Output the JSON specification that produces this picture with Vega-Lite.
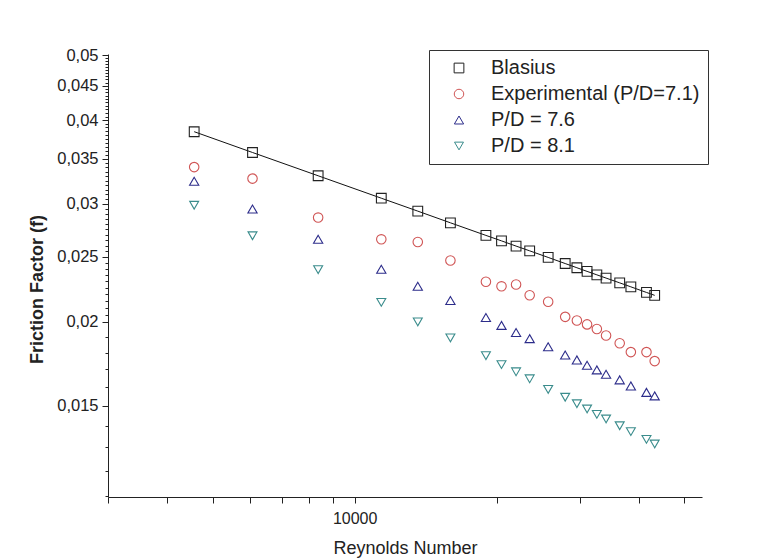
{
  "$schema": "https://vega.github.io/schema/vega-lite/v6.json",
  "width": 594,
  "height": 443,
  "autosize": "none",
  "padding": {"left": 108, "top": 54, "right": 59, "bottom": 61},
  "background": "white",
  "config": {
    "font": "Liberation Sans",
    "view": {"stroke": null},
    "axis": {"grid": false, "domainColor": "#222", "tickColor": "#222", "labelColor": "#222", "titleColor": "#222", "labelFont": "Liberation Sans", "titleFont": "Liberation Sans"}
  },
  "data": {
    "values": [
      {"Re": 4569, "f": 0.03844, "series": "Blasius"},
      {"Re": 6074, "f": 0.03579, "series": "Blasius"},
      {"Re": 8368, "f": 0.03304, "series": "Blasius"},
      {"Re": 11390, "f": 0.03059, "series": "Blasius"},
      {"Re": 13610, "f": 0.02926, "series": "Blasius"},
      {"Re": 15960, "f": 0.02811, "series": "Blasius"},
      {"Re": 18980, "f": 0.02692, "series": "Blasius"},
      {"Re": 20480, "f": 0.02642, "series": "Blasius"},
      {"Re": 21990, "f": 0.02595, "series": "Blasius"},
      {"Re": 23500, "f": 0.02553, "series": "Blasius"},
      {"Re": 25720, "f": 0.02496, "series": "Blasius"},
      {"Re": 27950, "f": 0.02444, "series": "Blasius"},
      {"Re": 29590, "f": 0.02409, "series": "Blasius"},
      {"Re": 31100, "f": 0.02379, "series": "Blasius"},
      {"Re": 32620, "f": 0.02351, "series": "Blasius"},
      {"Re": 34120, "f": 0.02325, "series": "Blasius"},
      {"Re": 36470, "f": 0.02287, "series": "Blasius"},
      {"Re": 38510, "f": 0.02256, "series": "Blasius"},
      {"Re": 41560, "f": 0.02213, "series": "Blasius"},
      {"Re": 43260, "f": 0.02191, "series": "Blasius"},
      {"Re": 4569, "f": 0.03404, "series": "Experimental (P/D=7.1)"},
      {"Re": 6074, "f": 0.03272, "series": "Experimental (P/D=7.1)"},
      {"Re": 8368, "f": 0.02862, "series": "Experimental (P/D=7.1)"},
      {"Re": 11390, "f": 0.02656, "series": "Experimental (P/D=7.1)"},
      {"Re": 13610, "f": 0.02632, "series": "Experimental (P/D=7.1)"},
      {"Re": 15960, "f": 0.0247, "series": "Experimental (P/D=7.1)"},
      {"Re": 18980, "f": 0.02296, "series": "Experimental (P/D=7.1)"},
      {"Re": 20480, "f": 0.0226, "series": "Experimental (P/D=7.1)"},
      {"Re": 21990, "f": 0.02274, "series": "Experimental (P/D=7.1)"},
      {"Re": 23500, "f": 0.02192, "series": "Experimental (P/D=7.1)"},
      {"Re": 25720, "f": 0.02143, "series": "Experimental (P/D=7.1)"},
      {"Re": 27950, "f": 0.02035, "series": "Experimental (P/D=7.1)"},
      {"Re": 29590, "f": 0.0201, "series": "Experimental (P/D=7.1)"},
      {"Re": 31100, "f": 0.01983, "series": "Experimental (P/D=7.1)"},
      {"Re": 32620, "f": 0.01952, "series": "Experimental (P/D=7.1)"},
      {"Re": 34120, "f": 0.01909, "series": "Experimental (P/D=7.1)"},
      {"Re": 36470, "f": 0.01859, "series": "Experimental (P/D=7.1)"},
      {"Re": 38510, "f": 0.01803, "series": "Experimental (P/D=7.1)"},
      {"Re": 41560, "f": 0.01803, "series": "Experimental (P/D=7.1)"},
      {"Re": 43260, "f": 0.01748, "series": "Experimental (P/D=7.1)"},
      {"Re": 4569, "f": 0.03242, "series": "P/D = 7.6"},
      {"Re": 6074, "f": 0.02947, "series": "P/D = 7.6"},
      {"Re": 8368, "f": 0.02656, "series": "P/D = 7.6"},
      {"Re": 11390, "f": 0.02396, "series": "P/D = 7.6"},
      {"Re": 13610, "f": 0.0226, "series": "P/D = 7.6"},
      {"Re": 15960, "f": 0.02152, "series": "P/D = 7.6"},
      {"Re": 18980, "f": 0.0203, "series": "P/D = 7.6"},
      {"Re": 20480, "f": 0.01976, "series": "P/D = 7.6"},
      {"Re": 21990, "f": 0.01928, "series": "P/D = 7.6"},
      {"Re": 23500, "f": 0.01888, "series": "P/D = 7.6"},
      {"Re": 25720, "f": 0.01836, "series": "P/D = 7.6"},
      {"Re": 27950, "f": 0.01785, "series": "P/D = 7.6"},
      {"Re": 29590, "f": 0.01755, "series": "P/D = 7.6"},
      {"Re": 31100, "f": 0.01723, "series": "P/D = 7.6"},
      {"Re": 32620, "f": 0.01696, "series": "P/D = 7.6"},
      {"Re": 34120, "f": 0.01671, "series": "P/D = 7.6"},
      {"Re": 36470, "f": 0.01639, "series": "P/D = 7.6"},
      {"Re": 38510, "f": 0.01605, "series": "P/D = 7.6"},
      {"Re": 41560, "f": 0.0157, "series": "P/D = 7.6"},
      {"Re": 43260, "f": 0.01551, "series": "P/D = 7.6"},
      {"Re": 4569, "f": 0.02986, "series": "P/D = 8.1"},
      {"Re": 6074, "f": 0.02689, "series": "P/D = 8.1"},
      {"Re": 8368, "f": 0.02393, "series": "P/D = 8.1"},
      {"Re": 11390, "f": 0.02139, "series": "P/D = 8.1"},
      {"Re": 13610, "f": 0.02, "series": "P/D = 8.1"},
      {"Re": 15960, "f": 0.01893, "series": "P/D = 8.1"},
      {"Re": 18980, "f": 0.01781, "series": "P/D = 8.1"},
      {"Re": 20480, "f": 0.01727, "series": "P/D = 8.1"},
      {"Re": 21990, "f": 0.01685, "series": "P/D = 8.1"},
      {"Re": 23500, "f": 0.01645, "series": "P/D = 8.1"},
      {"Re": 25720, "f": 0.01586, "series": "P/D = 8.1"},
      {"Re": 27950, "f": 0.01544, "series": "P/D = 8.1"},
      {"Re": 29590, "f": 0.0151, "series": "P/D = 8.1"},
      {"Re": 31100, "f": 0.01483, "series": "P/D = 8.1"},
      {"Re": 32620, "f": 0.01456, "series": "P/D = 8.1"},
      {"Re": 34120, "f": 0.01433, "series": "P/D = 8.1"},
      {"Re": 36470, "f": 0.014, "series": "P/D = 8.1"},
      {"Re": 38510, "f": 0.01372, "series": "P/D = 8.1"},
      {"Re": 41560, "f": 0.01336, "series": "P/D = 8.1"},
      {"Re": 43260, "f": 0.01315, "series": "P/D = 8.1"}
    ]
  },
  "encoding": {
    "x": {
      "field": "Re", "type": "quantitative",
      "scale": {"type": "log", "domain": [3000, 54500], "nice": false},
      "axis": {
        "title": "Reynolds Number",
        "values": [3000, 4000, 5000, 6000, 7000, 8000, 9000, 10000, 20000, 30000, 40000, 50000],
        "labelExpr": "datum.value == 10000 ? '10000' : ''",
        "labelOverlap": false,
        "tickSize": 6,
        "labelFontSize": 16,
        "labelPadding": 7,
        "titleFontSize": 18,
        "titleFontWeight": "normal",
        "titlePadding": 13
      }
    },
    "y": {
      "field": "f", "type": "quantitative",
      "scale": {"type": "log", "domain": [0.01096, 0.0502], "nice": false},
      "axis": {
        "title": "Friction Factor (f)",
        "values": [0.011, 0.012, 0.013, 0.014, 0.015, 0.016, 0.017, 0.018, 0.019, 0.02, 0.0205, 0.021, 0.0215, 0.022, 0.0225, 0.023, 0.0235, 0.024, 0.0245, 0.025, 0.0255, 0.026, 0.0265, 0.027, 0.0275, 0.028, 0.0285, 0.029, 0.0295, 0.03, 0.0305, 0.031, 0.0315, 0.032, 0.0325, 0.033, 0.0335, 0.034, 0.0345, 0.035, 0.0355, 0.036, 0.0365, 0.037, 0.0375, 0.038, 0.0385, 0.039, 0.0395, 0.04, 0.0405, 0.041, 0.0415, 0.042, 0.0425, 0.043, 0.0435, 0.044, 0.0445, 0.045, 0.0455, 0.046, 0.0465, 0.047, 0.0475, 0.048, 0.0485, 0.049, 0.0495, 0.05],
        "labelExpr": "round(datum.value*10000) % 50 == 0 ? replace(format(datum.value, '~g'), '.', ',') : ''",
        "labelOverlap": false,
        "tickSize": {"condition": {"test": "round(datum.value*10000) % 50 == 0", "value": 6}, "value": 3},
        "labelFontSize": 16.5,
        "labelPadding": 4,
        "titleFontSize": 18,
        "titleFontWeight": "bold",
        "titlePadding": 10,
        "titleY": 235
      }
    }
  },
  "layer": [
    {
      "transform": [{"filter": "datum.series == 'Blasius'"}],
      "mark": {"type": "line", "color": "#111", "strokeWidth": 1},
      "encoding": {}
    },
    {
      "mark": {"type": "point", "filled": false, "strokeWidth": 1.1, "opacity": 1},
      "encoding": {
        "color": {
          "field": "series", "type": "nominal",
          "scale": {"domain": ["Blasius", "Experimental (P/D=7.1)", "P/D = 7.6", "P/D = 8.1"], "range": ["#222222", "#d05555", "#2c2c8a", "#3a8c8c"]},
          "legend": {
            "title": null,
            "orient": "none",
            "legendX": 321,
            "legendY": -4,
            "padding": 8,
            "strokeColor": "#333",
            "fillColor": "white",
            "labelFontSize": 20,
            "labelColor": "#222",
            "labelFont": "Liberation Sans",
            "symbolSize": 60,
            "symbolStrokeWidth": 1,
            "symbolOffset": 12,
            "labelOffset": 22,
            "rowPadding": 6,
            "labelLimit": 400
          }
        },
        "shape": {
          "field": "series", "type": "nominal",
          "scale": {"domain": ["Blasius", "Experimental (P/D=7.1)", "P/D = 7.6", "P/D = 8.1"], "range": ["square", "circle", "triangle-up", "triangle-down"]}
        },
        "size": {
          "field": "series", "type": "nominal", "legend": null,
          "scale": {"domain": ["Blasius", "Experimental (P/D=7.1)", "P/D = 7.6", "P/D = 8.1"], "range": [95, 80, 135, 135]}
        }
      }
    }
  ]
}
